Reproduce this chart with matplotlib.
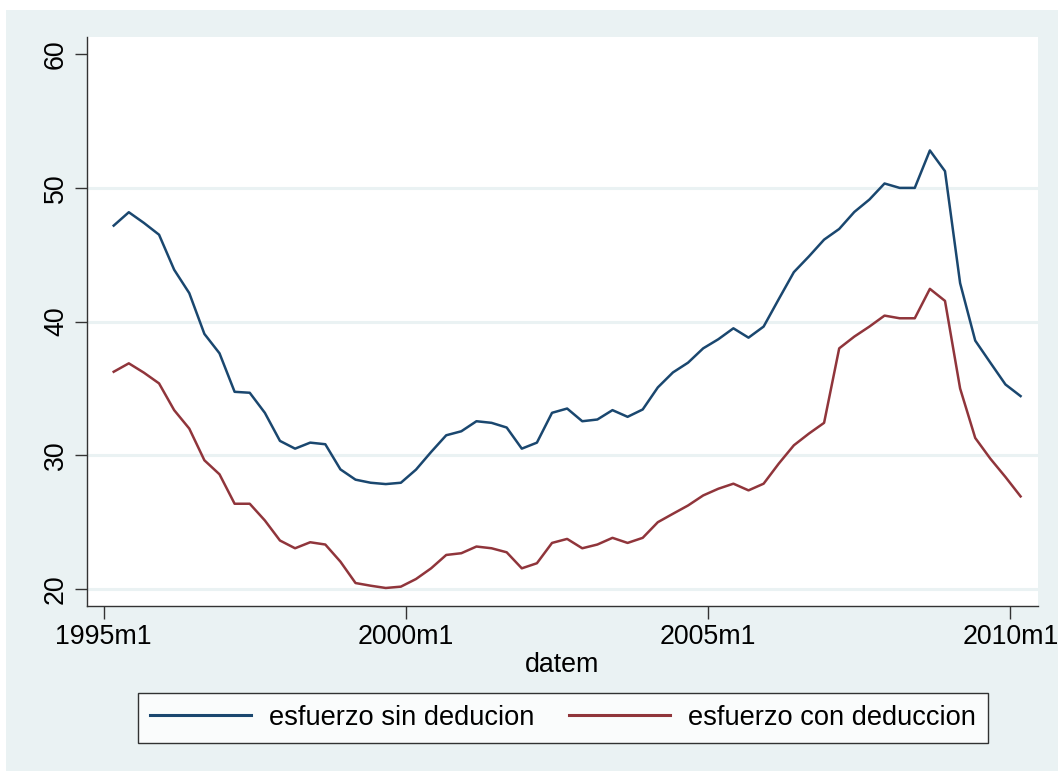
import matplotlib
matplotlib.use("Agg")
import matplotlib.pyplot as plt
from matplotlib.patches import Rectangle
import numpy as np

# Quarterly observations, month index relative to 1995m1 (1995m3 ... 2010m3)
months = [2 + 3 * i for i in range(61)]

sin_deducion = [
    47.18, 48.18, 47.38, 46.50, 43.88, 42.13, 39.08, 37.63, 34.75, 34.68,
    33.18, 31.08, 30.50, 30.95, 30.83, 28.95, 28.18, 27.95, 27.85, 27.95,
    28.93, 30.25, 31.50, 31.80, 32.55, 32.43, 32.08, 30.50, 30.95, 33.18,
    33.50, 32.55, 32.68, 33.38, 32.88, 33.43, 35.08, 36.20, 36.93, 38.00,
    38.68, 39.50, 38.80, 39.63, 41.68, 43.70, 44.88, 46.13, 46.93, 48.20,
    49.13, 50.33, 50.00, 50.00, 52.80, 51.25, 42.88, 38.58, 36.93, 35.30,
    34.43,
]
con_deduccion = [
    36.25, 36.88, 36.18, 35.38, 33.38, 32.00, 29.63, 28.58, 26.38, 26.38,
    25.13, 23.63, 23.05, 23.50, 23.33, 22.05, 20.45, 20.25, 20.08, 20.18,
    20.75, 21.55, 22.55, 22.68, 23.18, 23.05, 22.75, 21.55, 21.93, 23.45,
    23.75, 23.05, 23.33, 23.83, 23.45, 23.83, 25.00, 25.63, 26.25, 27.00,
    27.50, 27.88, 27.38, 27.88, 29.38, 30.75, 31.63, 32.43, 38.00, 38.88,
    39.63, 40.45, 40.25, 40.25, 42.45, 41.55, 35.00, 31.30, 29.75, 28.38,
    26.93,
]
series_labels = ["esfuerzo sin deducion", "esfuerzo con deduccion"]
xtick_pos = [0, 60, 120, 180]
xtick_labels = ["1995m1", "2000m1", "2005m1", "2010m1"]
ytick_vals = [20, 30, 40, 50, 60]

W, H = 1058, 771
BG = "#EAF2F3"
BLUE = "#1A476F"
RED = "#90353B"
FONT = "Liberation Sans"
FS = 19.3
LFS = 19.6

fig = plt.figure(figsize=(W / 100, H / 100), dpi=100)
fig.patch.set_facecolor("white")
fig.add_artist(Rectangle((6 / W, 0), 1 - 6 / W, 1 - 10 / H,
                         transform=fig.transFigure, facecolor=BG,
                         edgecolor="none", zorder=0))

ax = fig.add_axes([87 / W, 1 - 605.5 / H, (1037.7 - 87) / W, (605.5 - 37.2) / H])
ax.set_facecolor("white")
ax.set_xlim(-3.3, 185.4)
ax.set_ylim(18.77, 61.27)

for v in ytick_vals[:-1]:
    ax.axhline(v, color=BG, lw=2.2, zorder=1)

ax.plot(months, sin_deducion, color=BLUE, lw=1.8, zorder=3, label=series_labels[0])
ax.plot(months, con_deduccion, color=RED, lw=1.8, zorder=3, label=series_labels[1])

for s in ["top", "right"]:
    ax.spines[s].set_visible(False)
for s in ["left", "bottom"]:
    ax.spines[s].set_color("#333333")
    ax.spines[s].set_linewidth(1.0)

ax.set_xticks(xtick_pos)
ax.set_xticklabels(xtick_labels, fontfamily=FONT, fontsize=FS)
ax.set_yticks(ytick_vals)
ax.set_yticklabels([str(v) for v in ytick_vals], fontfamily=FONT, fontsize=FS,
                   rotation=90, va="center")
ax.tick_params(axis="both", direction="out", length=9, width=1.0, color="#333333",
               pad=4)
ax.set_xlabel("datem", fontfamily=FONT, fontsize=FS, labelpad=2)

leg = fig.legend(loc="center", bbox_to_anchor=(563 / W, 1 - 718 / H),
                 ncol=2, frameon=True, fancybox=False,
                 prop={"family": FONT, "size": LFS},
                 handlelength=3.7, handletextpad=0.65, columnspacing=1.3,
                 borderpad=0.45, borderaxespad=0)
leg.get_frame().set_edgecolor("black")
leg.get_frame().set_linewidth(1.0)
leg.get_frame().set_facecolor("white")
for line in leg.get_lines():
    line.set_linewidth(2.2)

fig.savefig("out.png", dpi=100, facecolor=fig.get_facecolor())
